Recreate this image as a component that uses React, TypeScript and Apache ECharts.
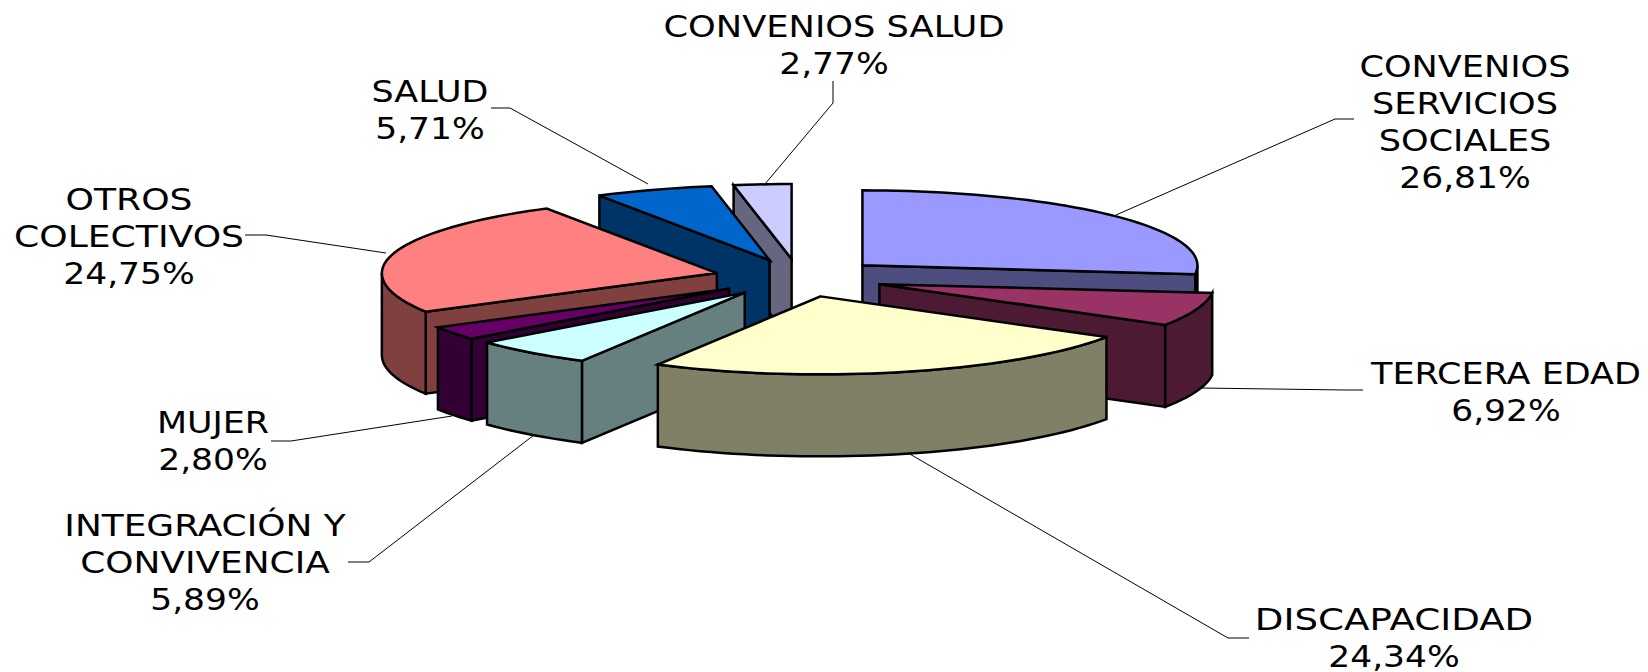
import React, { useEffect, useRef } from "react";
import * as echarts from "echarts";

// ---- data (clockwise from 12 o'clock) ----
const categories = [
  "CONVENIOS\nSERVICIOS\nSOCIALES",
  "TERCERA EDAD",
  "DISCAPACIDAD",
  "INTEGRACIÓN Y\nCONVIVENCIA",
  "MUJER",
  "OTROS\nCOLECTIVOS",
  "SALUD",
  "CONVENIOS SALUD",
];
const percentages = [26.81, 6.92, 24.34, 5.89, 2.8, 24.75, 5.71, 2.77];

// ---- styles ----
const topColors = ["#9999FF", "#993366", "#FFFFCC", "#CCFFFF", "#660066", "#FF8080", "#0066CC", "#CCCCFF"];
const sideColors = ["#4D4D80", "#4D1A33", "#808066", "#668080", "#330033", "#804040", "#003366", "#666680"];
const EDGE_WIDTH = 2.5;
const LABEL_FONT = '30px "DejaVu Sans"';
const LINE_HEIGHT = 37;
const PCT_SCALE_X = 1.15;

// ---- layout ----
const paintOrder = [7, 6, 0, 1, 5, 4, 3, 2];
const PIE = { cx: 799, cy: 278, rx: 335, ryBack: 75, ryFront: 78, depth: 82, explodeX: 85, explodeY: 19 };
const labelScaleX = [1.17, 1.167, 1.24, 1.197, 1.163, 1.205, 1.165, 1.175];
const labelCenters = [
  [1465, 122],
  [1506, 392],
  [1394, 638],
  [205, 563],
  [213, 441],
  [129, 237],
  [430, 110],
  [834, 45],
];
const leaderLines = [
  [[1116, 215], [1335, 119], [1354, 119]],
  [[1201, 388], [1345, 390], [1363, 390]],
  [[908, 453], [1228, 638], [1249, 638]],
  [[534, 435], [369, 562], [348, 562]],
  [[452, 416], [291, 441], [271, 441]],
  [[386, 253], [266, 235], [245, 235]],
  [[648, 184], [510, 108], [491, 108]],
  [[765, 184], [833, 103], [833, 81]],
];

const total = percentages.reduce((s, v) => s + v, 0);
const startAngles: number[] = [];
percentages.reduce((acc, v) => {
  startAngles.push((acc / total) * 360);
  return acc + v;
}, 0);

const rad = (d: number) => (d * Math.PI) / 180;

function rimPoint(apex: number[], deg: number) {
  const c = Math.cos(rad(deg));
  const ry = c >= 0 ? PIE.ryBack : PIE.ryFront;
  return [apex[0] + PIE.rx * Math.sin(rad(deg)), apex[1] - ry * c];
}

function arc(apex: number[], a: number, b: number) {
  const pts: number[][] = [];
  const n = Math.max(2, Math.ceil((b - a) / 2));
  for (let i = 0; i <= n; i++) pts.push(rimPoint(apex, a + ((b - a) * i) / n));
  return pts;
}

const down = (p: number[]) => [p[0], p[1] + PIE.depth];

function renderSlice(_params: any, api: any) {
  const i = api.value(0);
  const a = startAngles[i];
  const b = a + (api.value(1) / total) * 360;
  const mid = (a + b) / 2;
  const apex = [PIE.cx + PIE.explodeX * Math.sin(rad(mid)), PIE.cy - PIE.explodeY * Math.cos(rad(mid))];
  const sideStyle = { fill: sideColors[i], stroke: "#000", lineWidth: EDGE_WIDTH, lineJoin: "miter" };
  const children: any[] = [];
  const quad = (p: number[], q: number[]) => ({
    type: "polygon",
    shape: { points: [p, q, down(q), down(p)] },
    style: sideStyle,
  });
  const sa = Math.sin(rad(a));
  const sb = Math.sin(rad(b));
  if (sb > 0 && b < 180) children.push(quad(rimPoint(apex, b), apex));
  if (sa < 0 && a > 180) children.push(quad(rimPoint(apex, a), apex));
  const wa = Math.max(a, 90);
  const wb = Math.min(b, 270);
  if (wb > wa) {
    const rim = arc(apex, wa, wb);
    children.push({
      type: "polygon",
      shape: { points: [...rim, ...rim.map(down).reverse()] },
      style: sideStyle,
    });
  }
  children.push({
    type: "polygon",
    shape: { points: [apex, ...arc(apex, a, b)] },
    style: { fill: topColors[i], stroke: "#000", lineWidth: EDGE_WIDTH, lineJoin: "miter" },
  });
  return { type: "group", children };
}

const formatPct = (v: number) => v.toFixed(2).replace(".", ",") + "%";

export default function App() {
  const ref = useRef<HTMLDivElement>(null);
  useEffect(() => {
    const chart = echarts.init(ref.current!, undefined, { renderer: "svg" });
    const graphics: any[] = [];
    const textEl = (text: string, x: number, y: number, scaleX: number, lineHeight: number) => ({
      type: "text",
      z: 6,
      x,
      y,
      scaleX,
      style: {
        text,
        x: 0,
        y: 0,
        align: "center",
        verticalAlign: "middle",
        font: LABEL_FONT,
        lineHeight,
        fill: "#000",
      },
    });
    categories.forEach((name, i) => {
      const n = name.split("\n").length;
      const [cx, cy] = labelCenters[i];
      graphics.push({
        type: "polyline",
        z: 5,
        shape: { points: leaderLines[i] },
        style: { fill: "none", stroke: "#000", lineWidth: 1 },
      });
      graphics.push(textEl(name, cx, cy - LINE_HEIGHT / 2, labelScaleX[i], LINE_HEIGHT));
      graphics.push(textEl(formatPct(percentages[i]), cx, cy + (n * LINE_HEIGHT) / 2, PCT_SCALE_X, 28));
    });
    chart.setOption({
      animation: false,
      backgroundColor: "#fff",
      graphic: { elements: graphics },
      series: [
        {
          type: "custom",
          coordinateSystem: "none",
          renderItem: renderSlice,
          data: paintOrder.map((i) => [i, percentages[i]]),
          silent: true,
        },
      ],
    });
    return () => chart.dispose();
  }, []);
  return (
    <div
      ref={ref}
      style={{ position: "absolute", left: 0, top: 0, width: 1648, height: 672, background: "#fff" }}
    />
  );
}
